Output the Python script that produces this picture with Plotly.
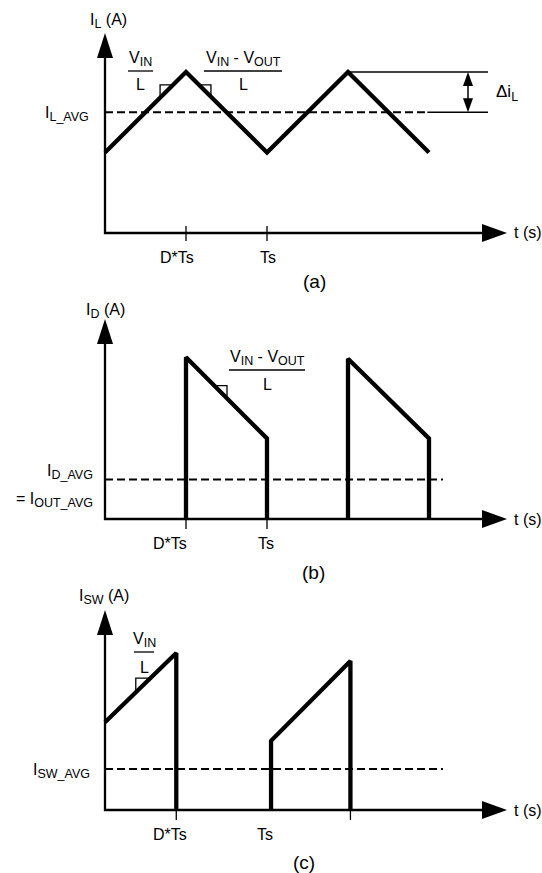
import numpy as np
import plotly.graph_objects as go

# ---- waveform data (time in units of Ts, current in arbitrary units) ----
# (a) inductor current
t_il = [0.0, 0.5, 1.0, 1.5, 2.0]
i_l = [1.0, 2.0, 1.0, 2.0, 1.0]
i_l_avg = 1.5

# (b) diode current
t_id = [0.5, 0.5, 1.0, 1.0, None, 1.5, 1.5, 2.0, 2.0]
i_d = [0.0, 2.01, 1.0, 0.0, None, 0.0, 1.99, 1.0, 0.0]
i_d_avg = 0.49

# (c) switch current
t_isw = [0.0, 0.44, 0.44, None, 1.025, 1.025, 1.515, 1.515]
i_sw = [1.09, 1.95, 0.0, None, 0.0, 0.86, 1.85, 0.0]
i_sw_avg = 0.51

tick_labels = ["D*Ts", "Ts"]
ticks_a = [0.5, 1.0]
ticks_b = [0.5, 1.0]
ticks_c = [0.44, 1.515]
label_pos_a = [0.445, 1.006]
label_pos_b = [0.404, 0.991]
label_pos_c = [0.401, 0.985]

# ---- page geometry ----
W, H = 542, 873
T0, KT = 105, 162      # pixel of t=0, pixels per Ts
KI = 80.5              # pixels per current unit
PANELS = [(0, 290, 233), (290, 590, 519), (590, 873, 810)]  # top, bottom, x-axis pixel
T_TIP = (507 - T0) / KT
I_TOP = 200 / KI
FONT = "Liberation Sans, Arial, sans-serif"

UP = "M0,0 L-8,-25 L8,-25 Z"
RIGHT = "M0,0 L-25,9 L-25,-9 Z"
SMALL_UP = "M0,0 L-5,-14 L5,-14 Z"
SMALL_DOWN = "M0,0 L-5,14 L5,14 Z"

fig = go.Figure()


def sub(s):
    return f"<sub><span style='font-size:12.5px'>{s}</span></sub>"


def refs(k):
    s = "" if k == 1 else str(k)
    return "x" + s, "y" + s


def head(x, y, path, xr, yr):
    fig.add_shape(type="path", path=path, xref=xr, yref=yr, xsizemode="pixel",
                  ysizemode="pixel", xanchor=x, yanchor=y, fillcolor="black", line_width=0)


def seg(x0, y0, x1, y1, xr, yr, width=1.3, dash=None):
    fig.add_shape(type="line", x0=x0, y0=y0, x1=x1, y1=y1, xref=xr, yref=yr,
                  line=dict(color="black", width=width, dash=dash))


def slope_mark(ts, vs, t1, t2, xr, yr):
    i1 = np.interp(t1, ts, vs)
    i2 = np.interp(t2, ts, vs)
    if i2 > i1:
        path = f"M{t1},{i1} L{t1},{i2} L{t2},{i2}"
    else:
        path = f"M{t1},{i1} L{t2},{i1} L{t2},{i2}"
    fig.add_shape(type="path", path=path, xref=xr, yref=yr, line=dict(color="black", width=1.3))


def txt(text, xpx, ypx, xanchor="center", size=16):
    fig.add_annotation(text=text, x=xpx / W, y=1 - ypx / H, xref="paper", yref="paper",
                       xanchor=xanchor, yanchor="middle", showarrow=False,
                       font=dict(family=FONT, size=size, color="black"))


def bar(x0, x1, ypx):
    fig.add_shape(type="line", x0=x0 / W, x1=x1 / W, y0=1 - ypx / H, y1=1 - ypx / H,
                  xref="paper", yref="paper", line=dict(color="black", width=1.3))


waves = [(t_il, i_l, i_l_avg, 1.975), (t_id, i_d, i_d_avg, 2.086), (t_isw, i_sw, i_sw_avg, 2.086)]
tick_sets = [(ticks_a, label_pos_a, (-8, 7)), (ticks_b, label_pos_b, (-10, 0)), (ticks_c, label_pos_c, (-10, 0))]

for k, ((top, bot, ax0), (ts, vs, avg, t_end), (ticks, lpos, tl)) in enumerate(
        zip(PANELS, waves, tick_sets), start=1):
    xr, yr = refs(k)
    s = "" if k == 1 else str(k)
    fig.update_layout(**{
        f"xaxis{s}": dict(domain=[0, 1], range=[-T0 / KT, (W - T0) / KT], visible=False,
                          anchor=yr, fixedrange=True),
        f"yaxis{s}": dict(domain=[1 - bot / H, 1 - top / H], range=[(ax0 - bot) / KI, (ax0 - top) / KI],
                          visible=False, anchor=xr, fixedrange=True),
    })
    # axes with arrow heads
    fig.add_shape(type="path", xref=xr, yref=yr, line=dict(color="black", width=2.3),
                  path=f"M0,{I_TOP - 20 / KI} L0,0 L{T_TIP - 20 / KT},0")
    head(0, I_TOP, UP, xr, yr)
    head(T_TIP, 0, RIGHT, xr, yr)
    for t in ticks:
        fig.add_shape(type="line", xref=xr, yref=yr, ysizemode="pixel", yanchor=0,
                      x0=t, x1=t, y0=tl[0], y1=tl[1], line=dict(color="black", width=1.3))
    for lab, p in zip(tick_labels, lpos):
        txt(lab, T0 + p * KT, ax0 + 24)
    # average (dashed) and waveform
    fig.add_trace(go.Scatter(x=[0, t_end], y=[avg, avg], mode="lines", xaxis=xr, yaxis=yr,
                             line=dict(color="black", width=2, dash="8px,4px"), hoverinfo="skip"))
    fig.add_trace(go.Scatter(x=ts, y=vs, mode="lines", xaxis=xr, yaxis=yr, connectgaps=False,
                             line=dict(color="black", width=4.3), hoverinfo="skip"))
    txt("t (s)", 512, ax0, xanchor="left")

# (a) ripple annotation
t_ripple = (468 - T0) / KT
t_ref_end = (488 - T0) / KT
seg(t_il[3], i_l[3], t_ref_end, i_l[3], "x", "y")
seg(1.99, i_l_avg, t_ref_end, i_l_avg, "x", "y")
seg(t_ripple, i_l_avg + 6 / KI, t_ripple, i_l[3] - 6 / KI, "x", "y", width=1.5)
head(t_ripple, i_l[3], SMALL_UP, "x", "y")
head(t_ripple, i_l_avg, SMALL_DOWN, "x", "y")

slope_mark(t_il[0:2], i_l[0:2], 0.34, 0.42, "x", "y")
slope_mark(t_il[1:3], i_l[1:3], 0.58, 0.654, "x", "y")
slope_mark(t_id[1:3], i_d[1:3], 0.675, 0.753, "x2", "y2")
slope_mark(t_isw[0:2], i_sw[0:2], 0.19, 0.28, "x3", "y3")

# labels panel (a)
txt("I" + sub("L") + " (A)", 108, 21)
txt("I" + sub("L_AVG"), 91, 114, xanchor="right")
txt("V" + sub("IN"), 141, 59)
bar(128, 153, 71)
txt("L", 141, 85)
txt("V" + sub("IN") + " - V" + sub("OUT"), 243, 59)
bar(204, 282, 71)
txt("L", 243, 85)
txt("Δi" + sub("L"), 494, 93, xanchor="left", size=17)
txt("(a)", 314, 282, size=19)

# labels panel (b)
txt("I" + sub("D") + " (A)", 105, 311)
txt("I" + sub("D_AVG"), 95, 472, xanchor="right")
txt("= I" + sub("OUT_AVG"), 95, 500, xanchor="right")
txt("V" + sub("IN") + " - V" + sub("OUT"), 267, 358)
bar(229, 305, 370)
txt("L", 267, 384)
txt("(b)", 313, 572, size=19)

# labels panel (c)
txt("I" + sub("SW") + " (A)", 104, 597)
txt("I" + sub("SW_AVG"), 92, 771, xanchor="right")
txt("V" + sub("IN"), 144, 640)
bar(134, 154, 652)
txt("L", 144, 667)
txt("(c)", 304, 862, size=19)

fig.update_layout(width=W, height=H, margin=dict(l=0, r=0, t=0, b=0), showlegend=False,
                  paper_bgcolor="white", plot_bgcolor="white")
# the page's default body margin would shift the figure by 8 px
fig.write_html("out.html", config={"displayModeBar": False},
               post_script="document.body.style.margin='0';")
